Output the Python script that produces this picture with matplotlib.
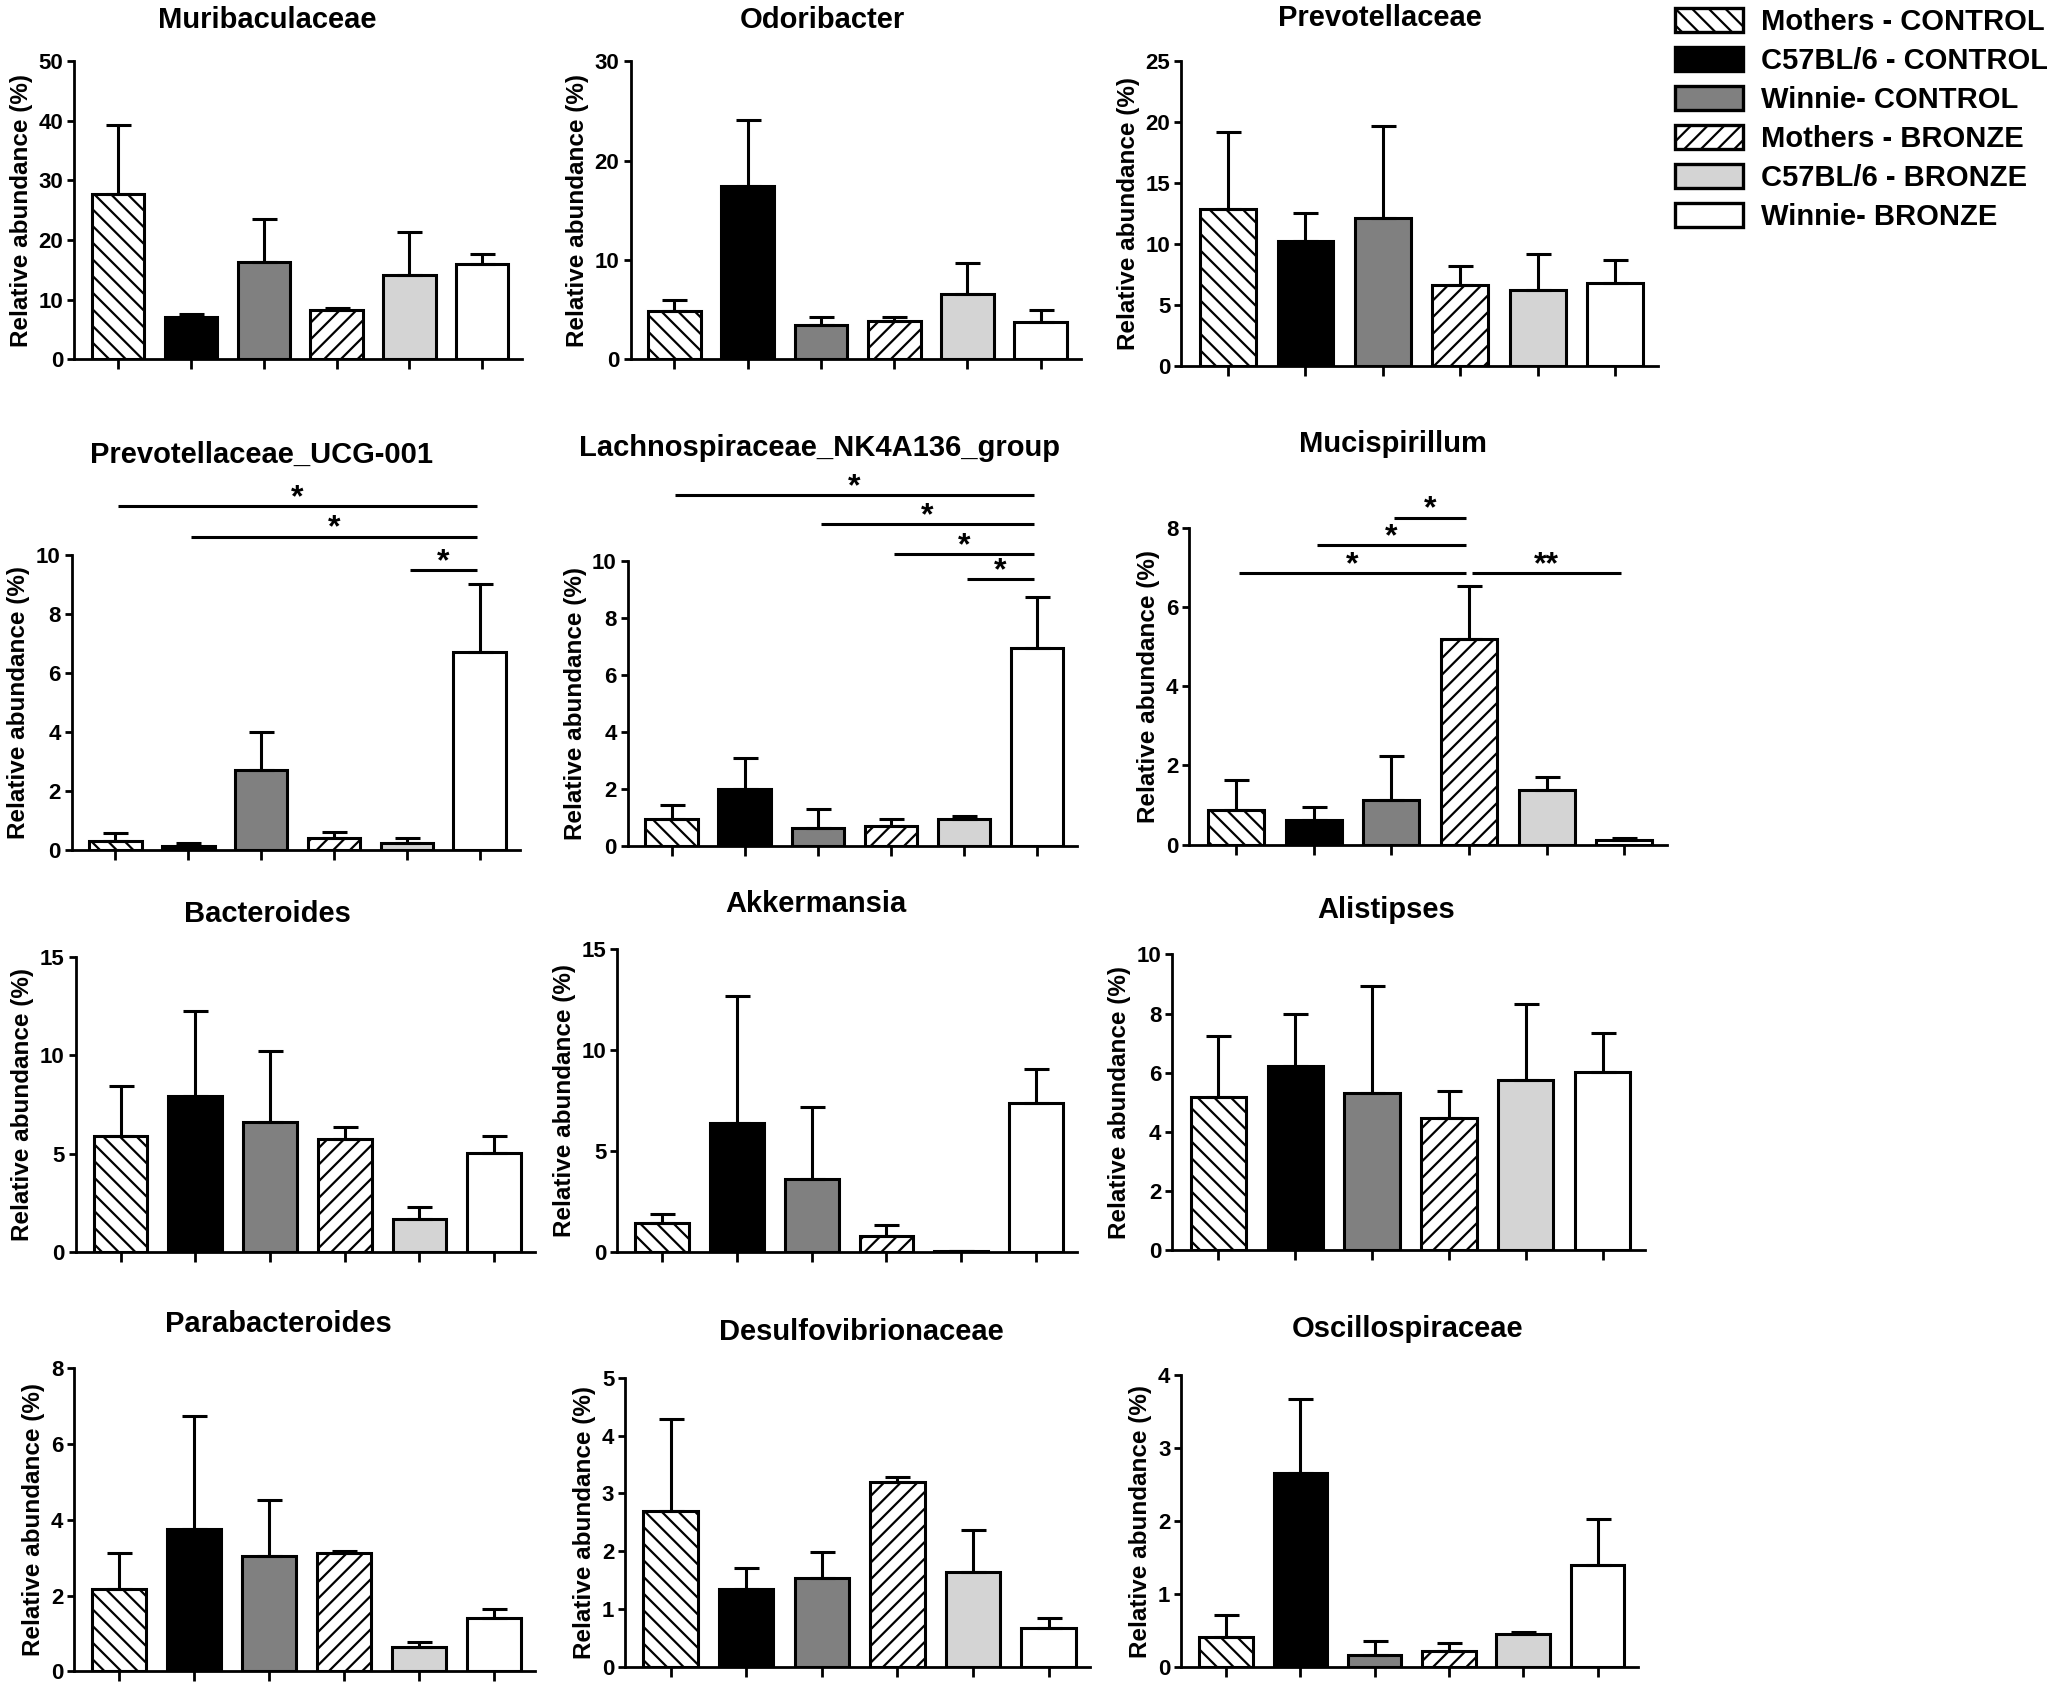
import numpy as np
import matplotlib.pyplot as plt
from matplotlib.patches import Patch

plt.rcParams['font.family'] = ['Liberation Sans', 'DejaVu Sans']
plt.rcParams['font.weight'] = 'bold'
plt.rcParams['hatch.linewidth'] = 1.6

groups = ['Mothers - CONTROL', 'C57BL/6 - CONTROL', 'Winnie- CONTROL',
          'Mothers - BRONZE', 'C57BL/6 - BRONZE', 'Winnie- BRONZE']
colors = ['white', 'black', '#808080', 'white', '#d4d4d4', 'white']
hatches = ['\\\\', None, None, '//', None, None]

taxa = ['Muribaculaceae', 'Odoribacter', 'Prevotellaceae',
        'Prevotellaceae_UCG-001', 'Lachnospiraceae_NK4A136_group', 'Mucispirillum',
        'Bacteroides', 'Akkermansia', 'Alistipses',
        'Parabacteroides', 'Desulfovibrionaceae', 'Oscillospiraceae']

# mean and upper error (SEM) per group
muribaculaceae = [27.8, 7.1, 16.3, 8.3, 14.1, 15.9]
muribaculaceae_err = [11.5, 0.5, 7.3, 0.3, 7.2, 1.7]
odoribacter = [4.8, 17.4, 3.4, 3.8, 6.6, 3.7]
odoribacter_err = [1.2, 6.7, 0.8, 0.4, 3.1, 1.2]
prevotellaceae = [12.9, 10.2, 12.1, 6.6, 6.2, 6.8]
prevotellaceae_err = [6.3, 2.3, 7.6, 1.6, 3.0, 1.9]
prevotellaceae_ucg = [0.32, 0.15, 2.7, 0.4, 0.25, 6.7]
prevotellaceae_ucg_err = [0.25, 0.1, 1.3, 0.2, 0.15, 2.3]
lachnospiraceae = [0.96, 2.0, 0.64, 0.7, 0.96, 6.96]
lachnospiraceae_err = [0.47, 1.1, 0.67, 0.26, 0.09, 1.8]
mucispirillum = [0.88, 0.63, 1.14, 5.18, 1.39, 0.11]
mucispirillum_err = [0.75, 0.32, 1.09, 1.35, 0.32, 0.06]
bacteroides = [5.9, 7.96, 6.6, 5.77, 1.67, 5.06]
bacteroides_err = [2.55, 4.3, 3.65, 0.6, 0.65, 0.85]
akkermansia = [1.45, 6.4, 3.63, 0.79, 0.05, 7.38]
akkermansia_err = [0.46, 6.3, 3.54, 0.58, 0.0, 1.7]
alistipses = [5.17, 6.21, 5.3, 4.45, 5.76, 6.01]
alistipses_err = [2.07, 1.77, 3.63, 0.91, 2.56, 1.32]
parabacteroides = [2.17, 3.75, 3.04, 3.13, 0.65, 1.4]
parabacteroides_err = [0.96, 2.99, 1.49, 0.04, 0.13, 0.24]
desulfovibrionaceae = [2.7, 1.35, 1.54, 3.19, 1.65, 0.68]
desulfovibrionaceae_err = [1.58, 0.36, 0.45, 0.1, 0.72, 0.17]
oscillospiraceae = [0.41, 2.66, 0.17, 0.22, 0.46, 1.4]
oscillospiraceae_err = [0.31, 1.01, 0.19, 0.12, 0.03, 0.63]

means = [muribaculaceae, odoribacter, prevotellaceae, prevotellaceae_ucg,
         lachnospiraceae, mucispirillum, bacteroides, akkermansia, alistipses,
         parabacteroides, desulfovibrionaceae, oscillospiraceae]
errs = [muribaculaceae_err, odoribacter_err, prevotellaceae_err, prevotellaceae_ucg_err,
        lachnospiraceae_err, mucispirillum_err, bacteroides_err, akkermansia_err,
        alistipses_err, parabacteroides_err, desulfovibrionaceae_err, oscillospiraceae_err]

y_max = [50, 30, 25, 10, 10, 8, 15, 15, 10, 8, 5, 4]
y_step = [10, 10, 5, 2, 2, 2, 5, 5, 2, 2, 1, 1]

# significance bars: (group a, group b, height, label)
sig_ucg = [(0, 5, 11.66, '*'), (1, 5, 10.62, '*'), (4, 5, 9.49, '*')]
sig_lachno = [(0, 5, 12.34, '*'), (2, 5, 11.32, '*'), (3, 5, 10.27, '*'), (4, 5, 9.38, '*')]
sig_muci = [(0, 3, 6.85, '*'), (1, 3, 7.56, '*'), (2, 3, 8.25, '*'), (3, 5, 6.85, '**')]
sigs = {3: sig_ucg, 4: sig_lachno, 5: sig_muci}

# panel boxes (left, top, right, bottom) in pixels of a 1568x1292 frame
W, H = 1568.0, 1292.0
boxes = [(57, 47, 400, 275), (483, 47, 828, 275), (905, 47, 1270, 280),
         (55, 425, 398, 651), (481, 430, 825, 648), (911, 404, 1277, 647),
         (58, 733, 410, 959), (473, 727, 825, 959), (898, 731, 1260, 957),
         (57, 1048, 410, 1280), (479, 1055, 835, 1277), (905, 1053, 1255, 1277)]
title_pos = [(205, 15), (630, 15), (1057, 14), (200, 348), (628, 343), (1067, 340),
             (205, 700), (625, 692), (1062, 697), (213, 1014), (660, 1020), (1078, 1018)]

fig = plt.figure(figsize=(20.47, 16.87), dpi=100)
x = np.arange(len(groups))

for k in range(12):
    l, t, r, b = boxes[k]
    ax = fig.add_axes([l / W, 1 - b / H, (r - l) / W, (b - t) / H])
    bars = ax.bar(x, means[k], width=0.72, color=colors, edgecolor='black',
                  linewidth=2.2, zorder=2)
    for p, h in zip(bars, hatches):
        if h:
            p.set_hatch(h)
    ax.errorbar(x, means[k], yerr=[np.zeros(6), errs[k]], fmt='none', ecolor='black',
                elinewidth=2.2, capsize=9, capthick=2.2, zorder=3)

    ax.set_xlim(-0.6, 5.55)
    ax.set_ylim(0, y_max[k])
    ax.set_yticks(np.arange(0, y_max[k] + y_step[k] / 2, y_step[k]))
    ax.set_xticks(x)
    ax.tick_params(axis='x', length=7, width=2, labelbottom=False)
    ax.tick_params(axis='y', length=5, width=2, labelsize=16, pad=3)
    for s in ['top', 'right']:
        ax.spines[s].set_visible(False)
    for s in ['left', 'bottom']:
        ax.spines[s].set_linewidth(2)
    ax.set_ylabel('Relative abundance (%)', fontsize=17.5, fontweight='bold', labelpad=4)

    for a, c, yy, lab in sigs.get(k, []):
        ax.plot([a + 0.04, c - 0.04], [yy, yy], color='black', lw=2.2, clip_on=False,
                solid_capstyle='butt')
        ax.text((a + c) / 2, yy, lab, ha='center', va='baseline', fontsize=23,
                fontweight='bold', clip_on=False)

    tx, ty = title_pos[k]
    fig.text(tx / W, 1 - ty / H, taxa[k], ha='center', va='center', fontsize=21,
             fontweight='bold')

handles = [Patch(facecolor=c, edgecolor='black', hatch=h, linewidth=2.4)
           for c, h in zip(colors, hatches)]
fig.legend(handles, groups, loc='upper left', bbox_to_anchor=(1283 / W, 1 - 6 / H),
           bbox_transform=fig.transFigure, frameon=False, fontsize=21,
           handlelength=2.35, handleheight=0.9, handletextpad=0.6,
           labelspacing=0.37, borderpad=0, borderaxespad=0)

fig.savefig('out.png', dpi=100)
